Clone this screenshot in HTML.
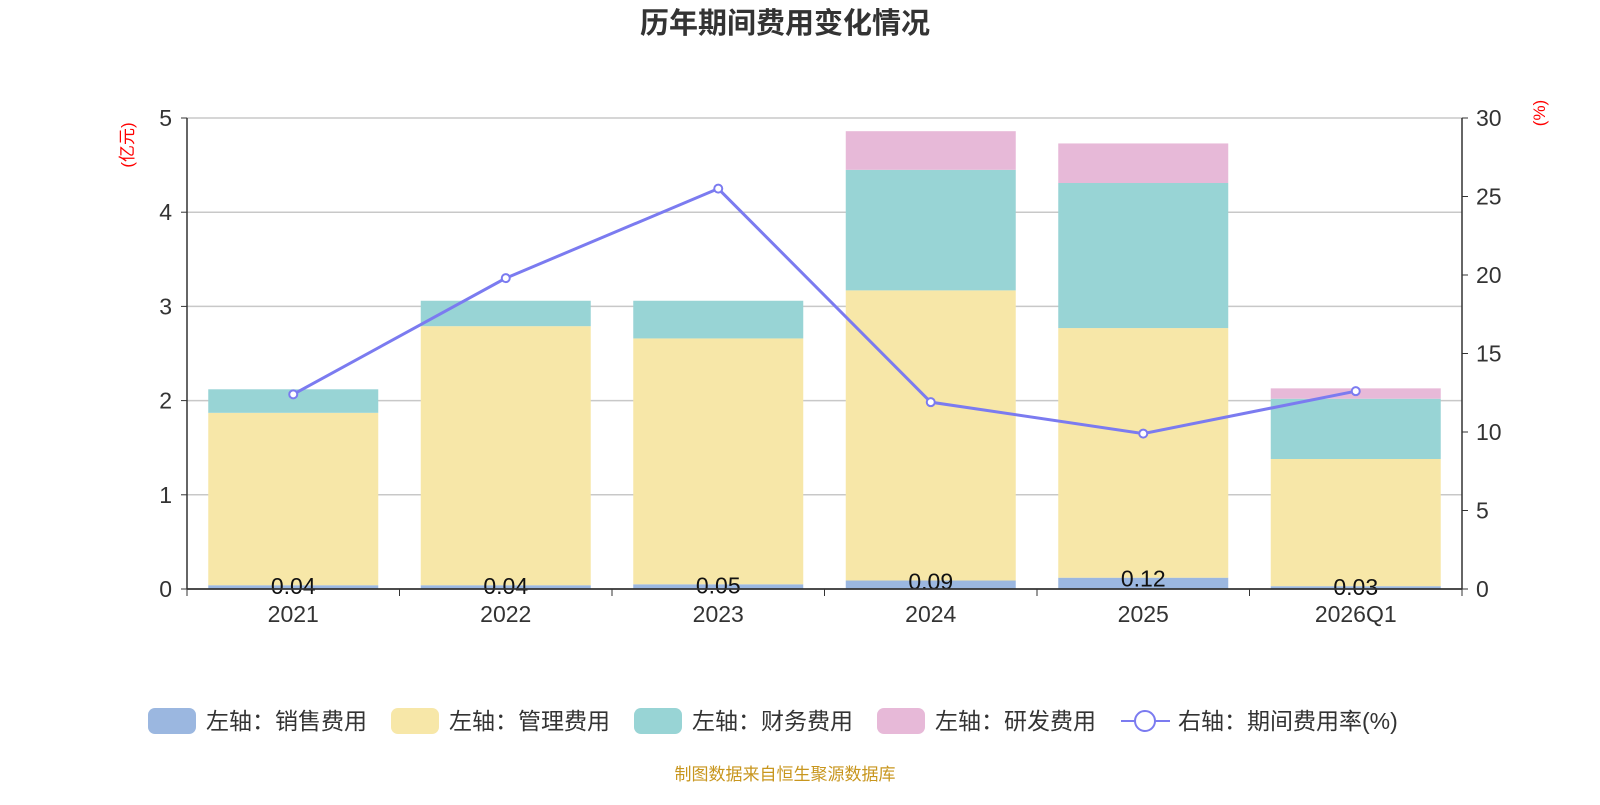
<!DOCTYPE html>
<html><head><meta charset="utf-8"><style>
body{margin:0;background:#fff;}
svg text{font-family:"Liberation Sans","Noto Sans CJK SC",sans-serif;}
</style></head><body>
<svg id="c" width="1600" height="800" xmlns="http://www.w3.org/2000/svg">
<text x="785" y="33" text-anchor="middle" font-size="29" font-weight="bold" fill="#333">历年期间费用变化情况</text>
<text transform="translate(133,145) rotate(-90)" text-anchor="middle" font-size="17" fill="#f00">(亿元)</text>
<text transform="translate(1545,113) rotate(-90)" text-anchor="middle" font-size="17" fill="#f00">(%)</text>
<g id="grid"></g><g id="bars"></g><g id="axes"></g><g id="line"></g>
<g id="legend" font-size="23" fill="#333">
<rect x="148" y="708" width="48" height="26" rx="7" fill="#9bb7e0"/>
<text x="206" y="729">左轴：销售费用</text>
<rect x="391" y="708" width="48" height="26" rx="7" fill="#f7e7a8"/>
<text x="449" y="729">左轴：管理费用</text>
<rect x="634" y="708" width="48" height="26" rx="7" fill="#98d4d5"/>
<text x="692" y="729">左轴：财务费用</text>
<rect x="877" y="708" width="48" height="26" rx="7" fill="#e7b9d8"/>
<text x="935" y="729">左轴：研发费用</text>
<line x1="1121" y1="721" x2="1170" y2="721" stroke="#7b7bf0" stroke-width="2"/>
<circle cx="1145" cy="721" r="10" fill="#fff" stroke="#7b7bf0" stroke-width="2"/>
<text x="1178" y="729">右轴：期间费用率(%)</text>
</g>
<text x="785" y="780" text-anchor="middle" font-size="17" fill="#c8961e">制图数据来自恒生聚源数据库</text>
</svg>
<script>
const categories=["2021","2022","2023","2024","2025","2026Q1"];
const sales=[0.04,0.04,0.05,0.09,0.12,0.03];
const salesLabels=["0.04","0.04","0.05","0.09","0.12","0.03"];
const admin=[1.83,2.75,2.61,3.08,2.65,1.35];
const finance=[0.25,0.27,0.40,1.28,1.54,0.64];
const rd=[0,0,0,0.41,0.42,0.11];
const rate=[12.4,19.8,25.5,11.9,9.9,12.6];
const leftTicks=[0,1,2,3,4,5];
const rightTicks=[0,5,10,15,20,25,30];
const NS="http://www.w3.org/2000/svg";
const X0=187,X1=1462,Y0=589,Y1=118;
const band=(X1-X0)/categories.length;
const xc=i=>X0+band*(i+0.5);
const yl=v=>Y0-(v/5)*(Y0-Y1);
const yr=v=>Y0-(v/30)*(Y0-Y1);
function mk(tag,attrs,parent,txt){const e=document.createElementNS(NS,tag);for(const k in attrs)e.setAttribute(k,attrs[k]);if(txt!==undefined)e.textContent=txt;document.getElementById(parent).appendChild(e);return e;}
leftTicks.forEach(t=>{
 if(t>0){const g=mk('line',{x1:X0,x2:X1,y1:yl(t),y2:yl(t),stroke:'#c8c8c8','stroke-width':1.5},'grid');
 
 }
 const tx=mk('text',{x:172,y:yl(t)+8,'text-anchor':'end','font-size':23,fill:'#333'},'axes',t);
 
 
 mk('line',{x1:X0-6,x2:X0,y1:yl(t),y2:yl(t),stroke:'#333'},'axes');
});
rightTicks.forEach(t=>{
 const tx=mk('text',{x:1476,y:yr(t)+8,'font-size':23,fill:'#333'},'axes',t);
 
 
 mk('line',{x1:X1,x2:X1+6,y1:yr(t),y2:yr(t),stroke:'#333'},'axes');
});
mk('line',{x1:X0,x2:X0,y1:Y1,y2:Y0,stroke:'#333','stroke-width':1.5},'axes');
mk('line',{x1:X1,x2:X1,y1:Y1,y2:Y0,stroke:'#333','stroke-width':1.5},'axes');
mk('line',{x1:X0,x2:X1,y1:Y0,y2:Y0,stroke:'#333','stroke-width':1.5},'axes');
for(let i=0;i<=categories.length;i++)mk('line',{x1:X0+band*i,x2:X0+band*i,y1:Y0,y2:Y0+7,stroke:'#333'},'axes');
const series=[[sales,'#9bb7e0','bar-sales'],[admin,'#f7e7a8','bar-admin'],[finance,'#98d4d5','bar-finance'],[rd,'#e7b9d8','bar-rd']];
categories.forEach((c,i)=>{
 let base=0;const bw=170;
 series.forEach(([arr,col,nm])=>{
  const v=arr[i];if(v<=0)return;
  const r=mk('rect',{x:xc(i)-bw/2,y:yl(base+v),width:bw,height:yl(base)-yl(base+v),fill:col},'bars');
  
  
  base+=v;
 });
 const lb=mk('text',{x:xc(i),y:yl(sales[i])+9,'text-anchor':'middle','font-size':23,fill:'#111'},'bars',salesLabels[i]);
 
 
 const xt=mk('text',{x:xc(i),y:622,'text-anchor':'middle','font-size':23,fill:'#333'},'axes',c);
 
 
});
mk('line',{x1:X0,x2:X1,y1:Y0,y2:Y0,stroke:'#333','stroke-width':1.5},'bars');
const pl=mk('polyline',{points:rate.map((v,i)=>xc(i)+','+yr(v)).join(' '),fill:'none',stroke:'#7b7bf0','stroke-width':3},'line');


rate.forEach((v,i)=>{
 const p=mk('circle',{cx:xc(i),cy:yr(v),r:4,fill:'#fff',stroke:'#7b7bf0','stroke-width':2},'line');
 
 
});
</script>
</body></html>
